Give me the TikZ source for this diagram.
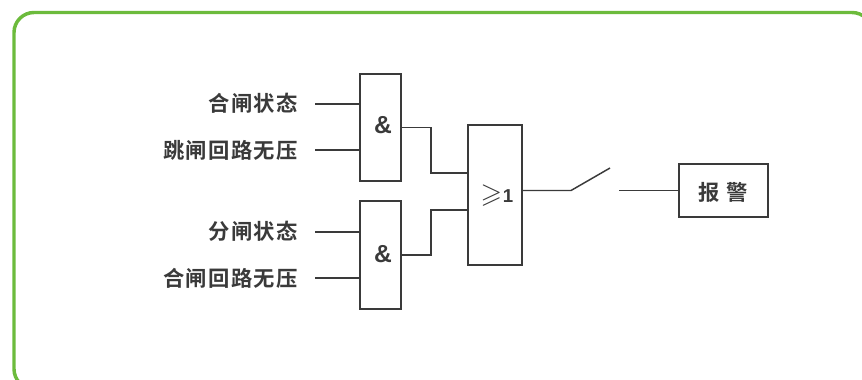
\documentclass[tikz,border=0pt]{standalone}
\usepackage{amsmath,amssymb}
\usepackage{fontspec}
\newfontfamily\cjkbold[LetterSpace=6]{Noto Sans CJK SC Bold}
\setsansfont{Liberation Sans}
\usepackage{tikz}
\definecolor{framegreen}{HTML}{6CBB3C}
\definecolor{inkgray}{HTML}{3A3A3A}

\begin{document}
\begin{tikzpicture}[x=0.75pt, y=-0.75pt,
		gate_style/.style={rectangle,draw=inkgray,line width=1.25pt,inner sep=0pt,outer sep=0pt,anchor=north west},
		label_style/.style={anchor=east,inner sep=0pt,text=inkgray,font=\cjkbold\fontsize{16}{16}\selectfont},
		sign_style/.style={inner sep=0pt,text=inkgray,font=\sffamily\bfseries\fontsize{18.5}{18.5}\selectfont},
		edge_style/.style={draw=inkgray,line width=1.1pt}]

		\useasboundingbox (0,0) rectangle (862,379);
		\clip (0,0) rectangle (862,379);
		\draw[draw=framegreen,line width=2.6pt,rounded corners=15pt] (14,12.5) rectangle (872,389);

		\node[gate_style,minimum width=30.75pt,minimum height=80.25pt] (and1) at (360,74)  {};
		\node[gate_style,minimum width=30.75pt,minimum height=81pt] (and2) at (360,201)  {};
		\node[gate_style,minimum width=40.5pt,minimum height=105pt] (or1) at (468,125)  {};
		\node[gate_style,minimum width=66.75pt,minimum height=39.75pt] (alarm) at (679,164)  {};

		\node[sign_style] (amp1) at (383,125)  {\&};
		\node[sign_style] (amp2) at (383,254)  {\&};
		\node[sign_style,font=\sffamily\bfseries\fontsize{14}{14}\selectfont] (orsign) at (497,196)  {{\fontsize{20.74}{20.74}\selectfont$\geqslant$}\kern0.5pt 1};
		\node[label_style,anchor=center] (alarmtext) at (723.5,192)  {报\hspace{0.3em}警};

		\node[label_style] (t1) at (298,103)  {合闸状态};
		\node[label_style] (t2) at (298,150)  {跳闸回路无压};
		\node[label_style] (t3) at (298,231)  {分闸状态};
		\node[label_style] (t4) at (298,278)  {合闸回路无压};

		\coordinate (i1) at (315,104);
		\coordinate (i2) at (315,150);
		\coordinate (i3) at (315,232);
		\coordinate (i4) at (315,278);
		\coordinate (b1) at (431,173);
		\coordinate (b2) at (431,210);
		\coordinate (s1) at (571,190.5);
		\coordinate (s2) at (610,168);
		\coordinate (s3) at (619,190.5);

		\draw[edge_style]  (i1) -- (i1 -| and1.west);
		\draw[edge_style]  (i2) -- (i2 -| and1.west);
		\draw[edge_style]  (i3) -- (i3 -| and2.west);
		\draw[edge_style]  (i4) -- (i4 -| and2.west);
		\draw[edge_style]  (and1.east) -| (b1) -- (b1 -| or1.west);
		\draw[edge_style]  (and2.east) -| (b2) -- (b2 -| or1.west);
		\draw[edge_style]  (s1 -| or1.east) -- (s1) -- (s2);
		\draw[edge_style]  (s3) -- (alarm.west);
\end{tikzpicture}
\end{document}
